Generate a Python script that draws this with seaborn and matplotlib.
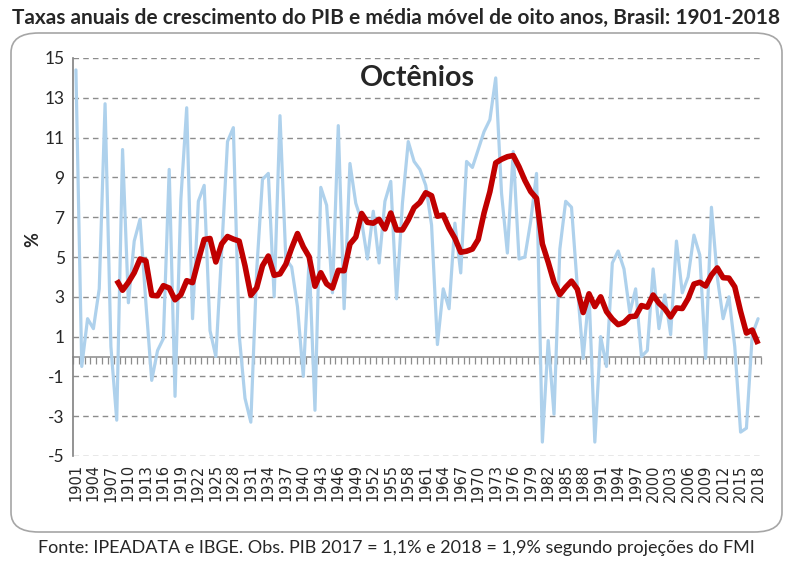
import numpy as np
import pandas as pd
import matplotlib
matplotlib.use("Agg")
import matplotlib.pyplot as plt
from matplotlib.patches import FancyBboxPatch
import seaborn as sns

# ---------------- data ----------------
years = list(range(1901, 2019))
pib_growth = [
    14.4, -0.5, 1.9, 1.4, 3.4, 12.7, 0.5, -3.2, 10.4, 2.7,      # 1901-1910
    5.8, 6.9, 2.7, -1.2, 0.3, 0.9, 9.4, -2.0, 7.9, 12.5,        # 1911-1920
    1.9, 7.8, 8.6, 1.3, 0.0, 5.3, 10.8, 11.5, 1.1, -2.1,        # 1921-1930
    -3.3, 4.3, 8.9, 9.2, 3.0, 12.1, 4.9, 4.5, 2.5, -1.0,        # 1931-1940
    4.9, -2.7, 8.5, 7.6, 3.2, 11.6, 2.4, 9.7, 7.7, 6.8,         # 1941-1950
    4.9, 7.3, 4.7, 7.8, 8.8, 2.9, 7.7, 10.8, 9.8, 9.4,          # 1951-1960
    8.6, 6.6, 0.6, 3.4, 2.4, 6.7, 4.2, 9.8, 9.5, 10.4,          # 1961-1970
    11.3, 11.9, 14.0, 8.2, 5.2, 10.3, 4.9, 5.0, 6.8, 9.2,       # 1971-1980
    -4.3, 0.8, -2.9, 5.4, 7.8, 7.5, 3.5, -0.1, 3.2, -4.3,       # 1981-1990
    1.0, -0.5, 4.7, 5.3, 4.4, 2.2, 3.4, 0.0, 0.3, 4.4,          # 1991-2000
    1.4, 3.1, 1.1, 5.8, 3.2, 4.0, 6.1, 5.1, -0.1, 7.5,          # 2001-2010
    4.0, 1.9, 3.0, 0.5, -3.8, -3.6, 1.1, 1.9,                   # 2011-2018
]
ma_years = list(range(1908, 2019))
media_movel = [
    3.83, 3.33, 3.73,                                            # 1908-1910
    4.21, 4.90, 4.81, 3.08, 3.05, 3.56, 3.44, 2.85, 3.11, 3.81,  # 1911-1920
    3.71, 4.84, 5.88, 5.93, 4.75, 5.66, 6.03, 5.90, 5.80, 4.56,  # 1921-1930
    3.08, 3.45, 4.56, 5.05, 4.08, 4.15, 4.63, 5.45, 6.18, 5.51,  # 1931-1940
    5.01, 3.53, 4.21, 3.65, 3.44, 4.33, 4.31, 5.65, 6.00, 7.19,  # 1941-1950
    6.74, 6.70, 6.89, 6.41, 7.21, 6.36, 6.36, 6.86, 7.48, 7.74,  # 1951-1960
    8.23, 8.08, 7.05, 7.11, 6.45, 5.94, 5.24, 5.29, 5.40, 5.88,  # 1961-1970
    7.21, 8.28, 9.73, 9.91, 10.04, 10.10, 9.53, 8.85, 8.29, 7.95,  # 1971-1980
    5.66, 4.74, 3.73, 3.11, 3.48, 3.79, 3.38, 2.21, 3.15, 2.51,  # 1981-1990
    3.00, 2.26, 1.88, 1.60, 1.71, 2.00, 2.03, 2.56, 2.48, 3.09,  # 1991-2000
    2.68, 2.40, 1.99, 2.44, 2.41, 2.91, 3.64, 3.73, 3.54, 4.09,  # 2001-2010
    4.45, 3.96, 3.94, 3.50, 2.26, 1.18, 1.33, 0.63,              # 2011-2018
]
xtick_years = list(range(1901, 2019, 3))
ytick_values = list(range(-5, 16, 2))

title = "Taxas anuais de crescimento do PIB e média móvel de oito anos, Brasil: 1901-2018"
subtitle = "Octênios"
footnote = "Fonte: IPEADATA e IBGE. Obs. PIB 2017 = 1,1% e 2018 = 1,9% segundo projeções do FMI"

df_pib = pd.DataFrame({"ano": years, "pib": pib_growth})
df_ma = pd.DataFrame({"ano": ma_years, "mm": media_movel})

# ---------------- style ----------------
sns.set_style("white")
plt.rcParams["font.family"] = ["Lato", "DejaVu Sans"]

W, H = 793, 561
fig = plt.figure(figsize=(W / 100, H / 100), dpi=100)
ax = fig.add_axes([73 / W, 1 - 456 / H, (761 - 73) / W, (456 - 58) / H])

BLUE = "#AED1EC"
RED = "#C00000"
GRID = "#8C8C8C"

sns.lineplot(data=df_pib, x="ano", y="pib", ax=ax, color=BLUE, linewidth=2.3, zorder=3)
sns.lineplot(data=df_ma, x="ano", y="mm", ax=ax, color=RED, linewidth=4.0, zorder=4,
             solid_joinstyle="round", solid_capstyle="butt")

ax.set_xlim(1900.5, 2018.5)
ax.set_ylim(-5, 15)
ax.set_yticks(ytick_values)
ax.set_yticklabels([str(v) for v in ytick_values], fontsize=12.5)
ax.set_xticks(xtick_years)
ax.set_xticklabels([str(y) for y in xtick_years], rotation=90, fontsize=10.5,
                   family="DejaVu Sans")
ax.tick_params(axis="both", length=0, pad=6)
ax.set_xlabel("")
ax.set_ylabel("")

for v in ytick_values:
    ax.axhline(v, color=GRID, linewidth=1.0, linestyle=(0, (4, 3)), zorder=1)

for s in ["top", "right", "bottom"]:
    ax.spines[s].set_visible(False)
ax.spines["left"].set_color("#808080")
ax.spines["left"].set_linewidth(1.2)

# category axis crossing at zero, with tick marks between categories
sec = ax.secondary_xaxis(0.25)
sec.set_xticks(np.arange(1900.5, 2019.0, 1.0))
sec.set_xticklabels([])
sec.tick_params(axis="x", direction="out", length=5, width=0.9, color="#8C8C8C")
sec.spines["bottom"].set_color("#8C8C8C")
sec.spines["bottom"].set_linewidth(1.1)

ax.text(0.5, 1 - (78 - 58) / (456 - 58), subtitle, transform=ax.transAxes,
        ha="center", va="center", fontsize=20.5, fontweight="bold")

fig.text(33 / W, 1 - 240 / H, "%", rotation=90, ha="center", va="center",
         fontsize=13, fontweight="bold")

fig.text(0.5, 1 - 18 / H, title, ha="center", va="center", fontsize=15,
         fontweight="bold")
fig.text(0.5, 1 - 548 / H, footnote, ha="center", va="center", fontsize=13)

box = FancyBboxPatch((11 / W, 1 - 532 / H), (782 - 11) / W, (532 - 33) / H,
                     boxstyle="round,pad=0,rounding_size=0.035",
                     transform=fig.transFigure, facecolor="none",
                     edgecolor="#A6A6A6", linewidth=1.2, zorder=0)
fig.patches.append(box)

fig.savefig("out.png", dpi=100)
